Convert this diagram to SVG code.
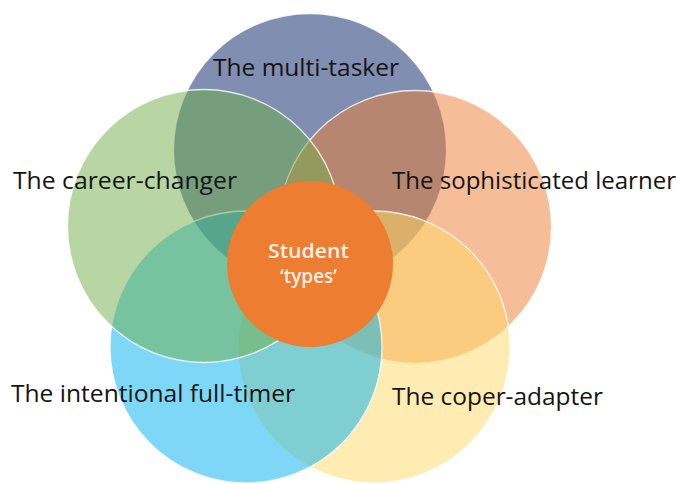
<svg xmlns="http://www.w3.org/2000/svg" width="681" height="484" viewBox="0 0 681 484">
  <style>
    .ring { stroke: #ffffff; stroke-width: 1.3; stroke-opacity: 0.8; }
    .soft { fill-opacity: 0.5; }
    .lbl { font-family: "Open Sans", "Noto Sans", "DejaVu Sans", sans-serif; font-size: 24px; fill: #141414; }
    .ctr { font-family: "Open Sans", "Noto Sans", "DejaVu Sans", sans-serif; font-size: 20px; font-weight: 600; fill: #FDF0E6; }
  </style>
  <rect width="681" height="484" fill="#ffffff"/>
  <g id="node-multi-tasker">
    <circle class="ring" cx="310" cy="150" r="136.5" fill="#7F8EB1"/>
    <text class="lbl" x="213" y="76" textLength="186" lengthAdjust="spacingAndGlyphs">The multi-tasker</text>
  </g>
  <g id="node-sophisticated-learner">
    <circle class="ring soft" cx="415" cy="227" r="136.5" fill="#ED7D31"/>
    <text class="lbl" x="392" y="189" textLength="284" lengthAdjust="spacingAndGlyphs">The sophisticated learner</text>
  </g>
  <g id="node-coper-adapter">
    <circle class="ring soft" cx="374" cy="347" r="136" fill="#FFD966"/>
    <text class="lbl" x="392" y="405" textLength="211" lengthAdjust="spacingAndGlyphs">The coper-adapter</text>
  </g>
  <g id="node-intentional-full-timer">
    <circle class="ring soft" cx="246" cy="347" r="136" fill="#00B0F0"/>
    <text class="lbl" x="11" y="402" textLength="284" lengthAdjust="spacingAndGlyphs">The intentional full-timer</text>
  </g>
  <g id="node-career-changer">
    <circle class="ring soft" cx="204" cy="226" r="136.5" fill="#70AD47"/>
    <text class="lbl" x="13" y="189" textLength="224" lengthAdjust="spacingAndGlyphs">The career-changer</text>
  </g>
  <g id="node-student-types">
    <circle cx="310" cy="264" r="83" fill="#ED7D31"/>
    <text class="ctr" x="268" y="258" textLength="81" lengthAdjust="spacingAndGlyphs">Student</text>
    <text class="ctr" x="280" y="283" textLength="57" lengthAdjust="spacingAndGlyphs">‘types’</text>
  </g>
</svg>
